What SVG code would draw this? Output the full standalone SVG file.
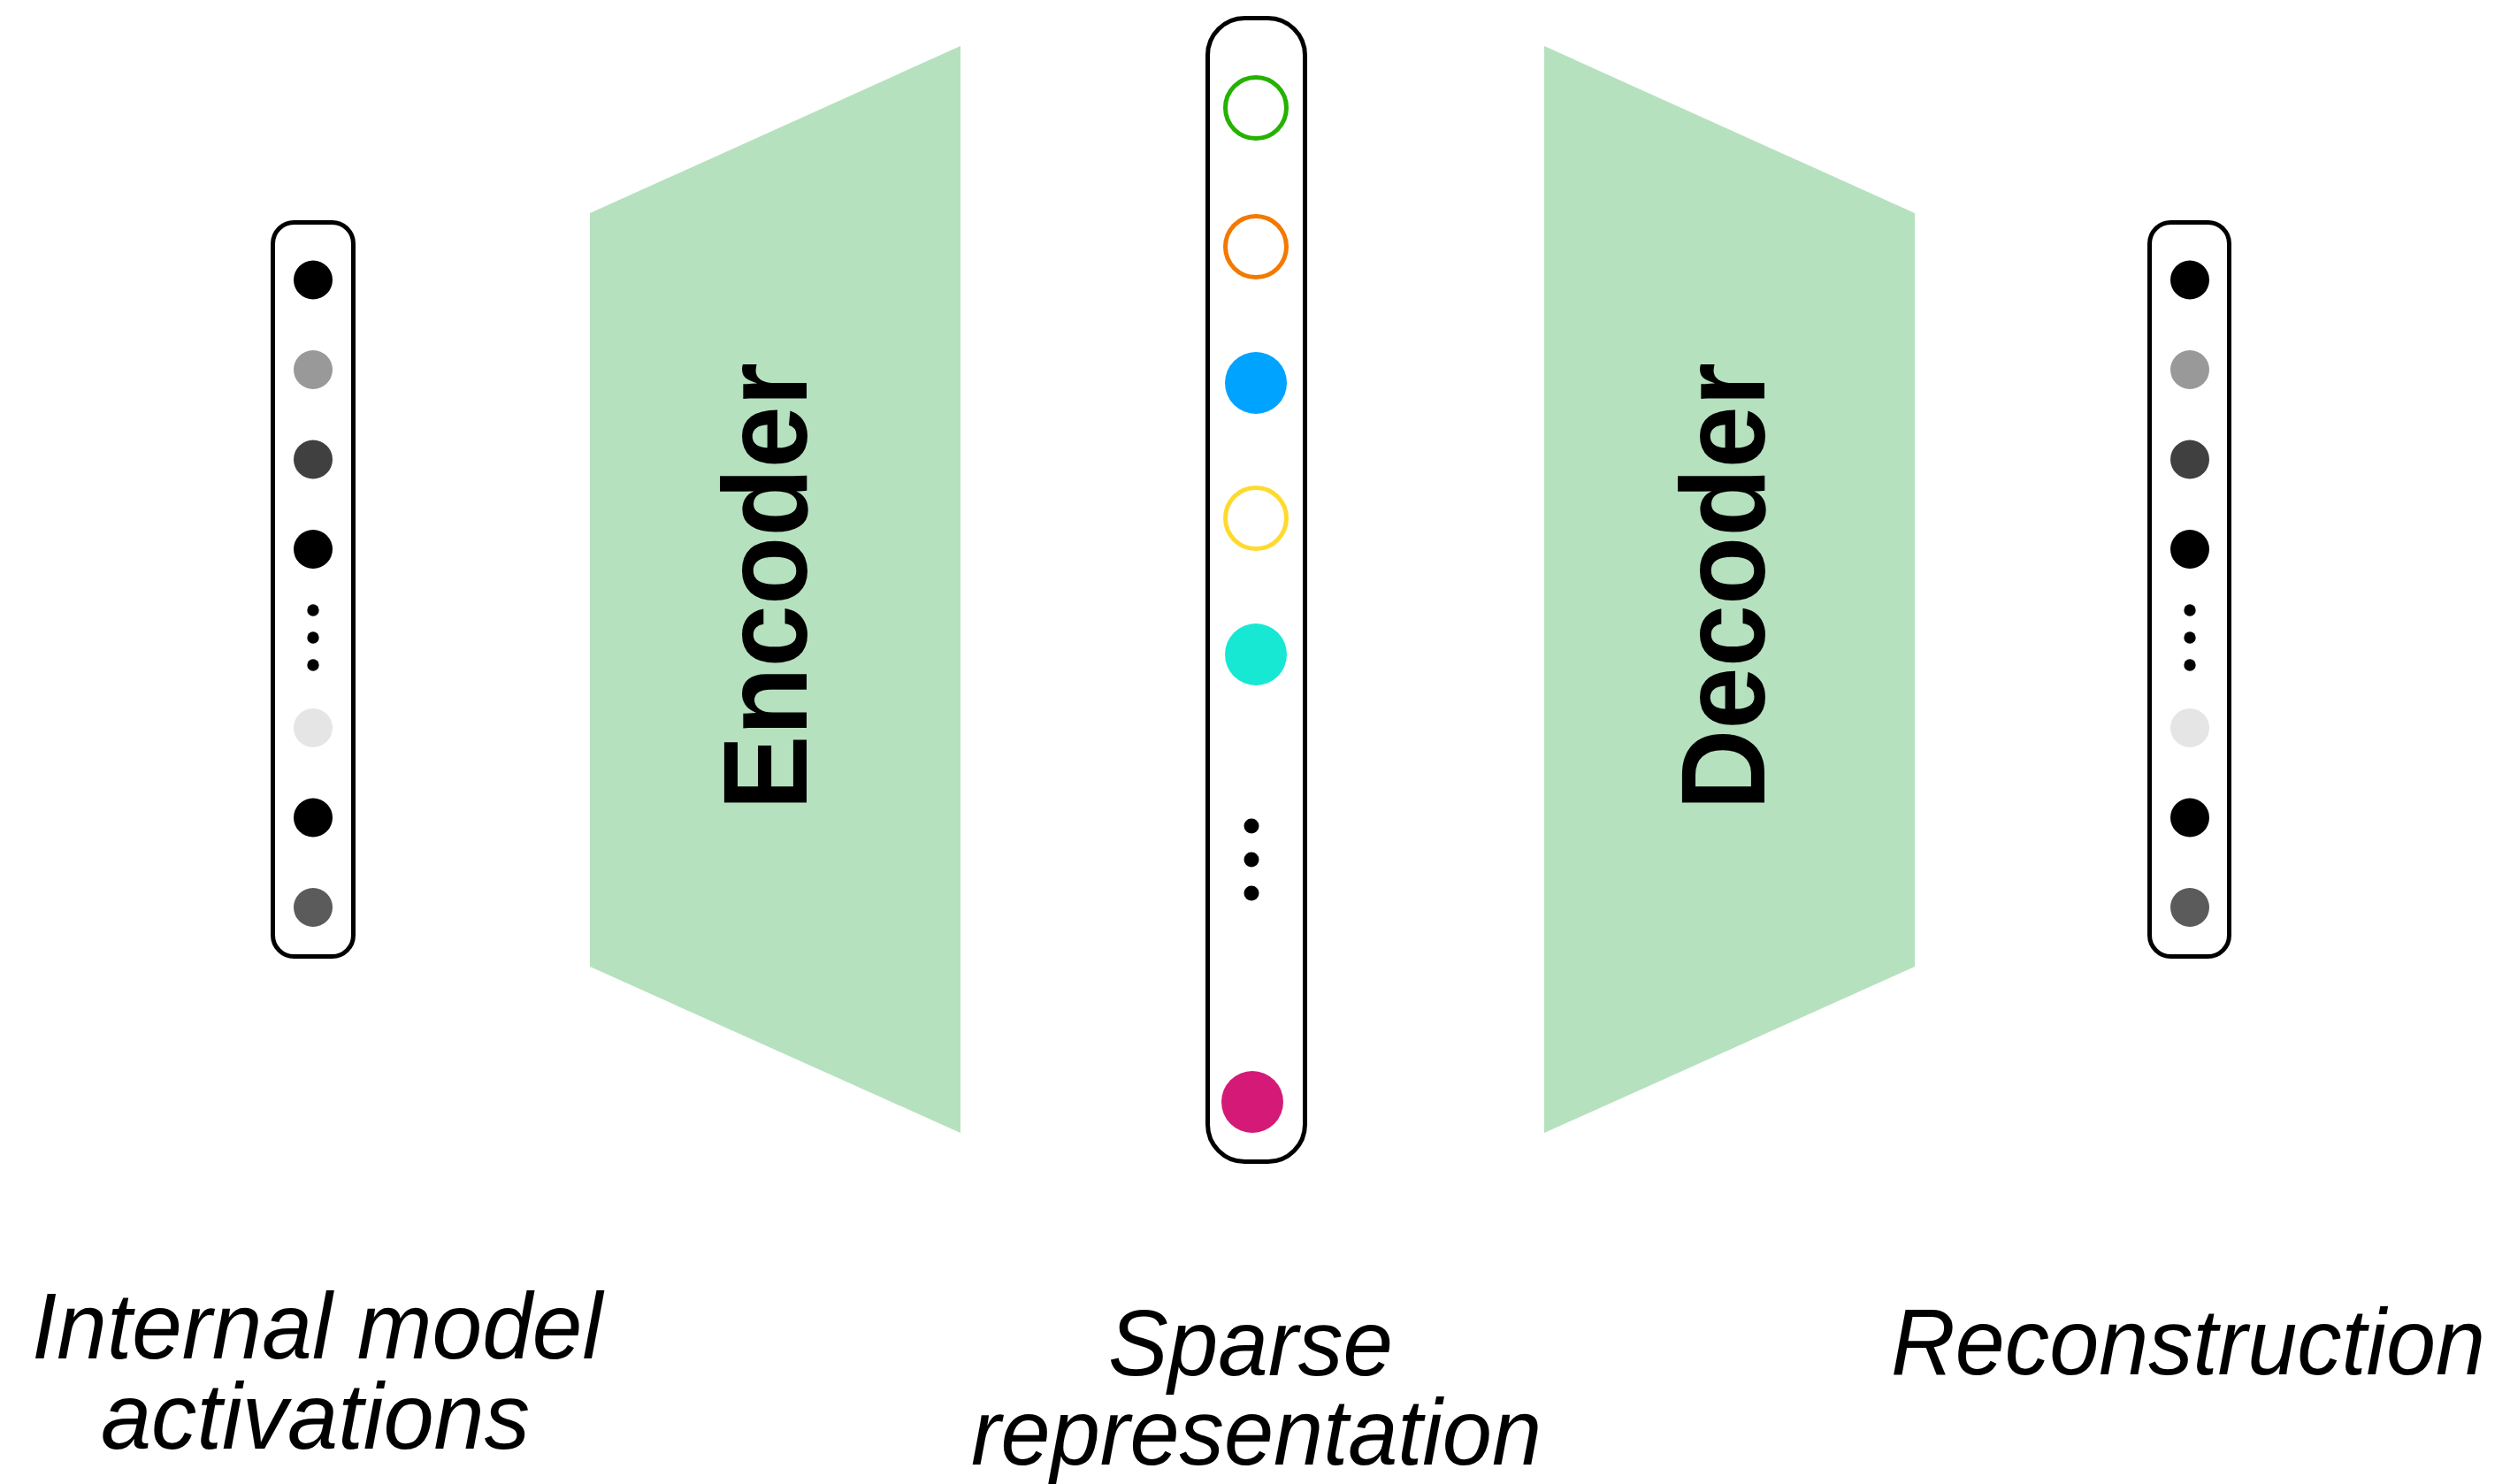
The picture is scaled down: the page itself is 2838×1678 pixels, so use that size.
<svg xmlns="http://www.w3.org/2000/svg" width="2838" height="1678" viewBox="0 0 2838 1678">
<style>
.col{fill:#fff;stroke:#000;stroke-width:5}
.trap{fill:#b6e1bf}
.big{font-family:"Liberation Sans",Arial,sans-serif;font-weight:bold;font-size:135px;fill:#000}
.lbl{font-family:"Liberation Sans",Arial,sans-serif;font-style:italic;font-size:106px;fill:#000}
.ring{fill:none;stroke-width:5}
</style>
<rect width="2838" height="1678" fill="#fff"/>
<g id="connectors"></g>
<g id="input">
<rect class="col" x="308.5" y="251.5" width="91" height="830" rx="24"/>
<circle cx="354" cy="316.5" r="22" fill="#000"/>
<circle cx="354" cy="418" r="22" fill="#999"/>
<circle cx="354" cy="519.5" r="22" fill="#404040"/>
<circle cx="354" cy="621" r="22" fill="#000"/>
<circle cx="354" cy="690" r="6.7" fill="#000"/>
<circle cx="354" cy="721" r="6.7" fill="#000"/>
<circle cx="354" cy="752" r="6.7" fill="#000"/>
<circle cx="354" cy="823" r="22" fill="#e5e5e5"/>
<circle cx="354" cy="924.5" r="22" fill="#000"/>
<circle cx="354" cy="1026" r="22" fill="#5b5b5b"/>
</g>
<g id="encoder">
<polygon class="trap" points="667,241 1086,52 1086,1281 667,1093"/>
<text class="big" transform="translate(912,663) rotate(-90)" text-anchor="middle" textLength="506" lengthAdjust="spacingAndGlyphs">Encoder</text>
</g>
<g id="sparse">
<rect class="col" x="1365.5" y="20.5" width="110" height="1293" rx="42"/>
<circle class="ring" cx="1420" cy="122" r="34.5" stroke="#25b200"/>
<circle class="ring" cx="1420" cy="279" r="34.5" stroke="#f27a00"/>
<circle cx="1420" cy="433" r="35" fill="#00a3ff"/>
<circle class="ring" cx="1420" cy="586" r="34.5" stroke="#ffda2e"/>
<circle cx="1420" cy="740" r="35" fill="#17e8d4"/>
<circle cx="1415" cy="934" r="8.5" fill="#000"/>
<circle cx="1415" cy="972" r="8.5" fill="#000"/>
<circle cx="1415" cy="1010" r="8.5" fill="#000"/>
<circle cx="1416" cy="1246" r="35" fill="#d41a76"/>
</g>
<g id="decoder">
<polygon class="trap" points="1746,52 2165,241 2165,1093 1746,1281"/>
<text class="big" transform="translate(1995,663) rotate(-90)" text-anchor="middle" textLength="506" lengthAdjust="spacingAndGlyphs">Decoder</text>
</g>
<g id="output">
<rect class="col" x="2430.5" y="251.5" width="90" height="830" rx="24"/>
<circle cx="2476" cy="316.5" r="22" fill="#000"/>
<circle cx="2476" cy="418" r="22" fill="#999"/>
<circle cx="2476" cy="519.5" r="22" fill="#404040"/>
<circle cx="2476" cy="621" r="22" fill="#000"/>
<circle cx="2476" cy="690" r="6.7" fill="#000"/>
<circle cx="2476" cy="721" r="6.7" fill="#000"/>
<circle cx="2476" cy="752" r="6.7" fill="#000"/>
<circle cx="2476" cy="823" r="22" fill="#e5e5e5"/>
<circle cx="2476" cy="924.5" r="22" fill="#000"/>
<circle cx="2476" cy="1026" r="22" fill="#5b5b5b"/>
</g>
<g id="labels">
<text class="lbl"><tspan x="36" y="1536" textLength="645" lengthAdjust="spacingAndGlyphs">Internal model</tspan><tspan x="114" y="1638" textLength="485" lengthAdjust="spacingAndGlyphs">activations</tspan></text>
<text class="lbl"><tspan x="1253" y="1555" textLength="322" lengthAdjust="spacingAndGlyphs">Sparse</tspan><tspan x="1098" y="1656" textLength="645" lengthAdjust="spacingAndGlyphs">representation</tspan></text>
<text class="lbl" x="2138" y="1554" textLength="672" lengthAdjust="spacingAndGlyphs">Reconstruction</text>
</g>
</svg>
